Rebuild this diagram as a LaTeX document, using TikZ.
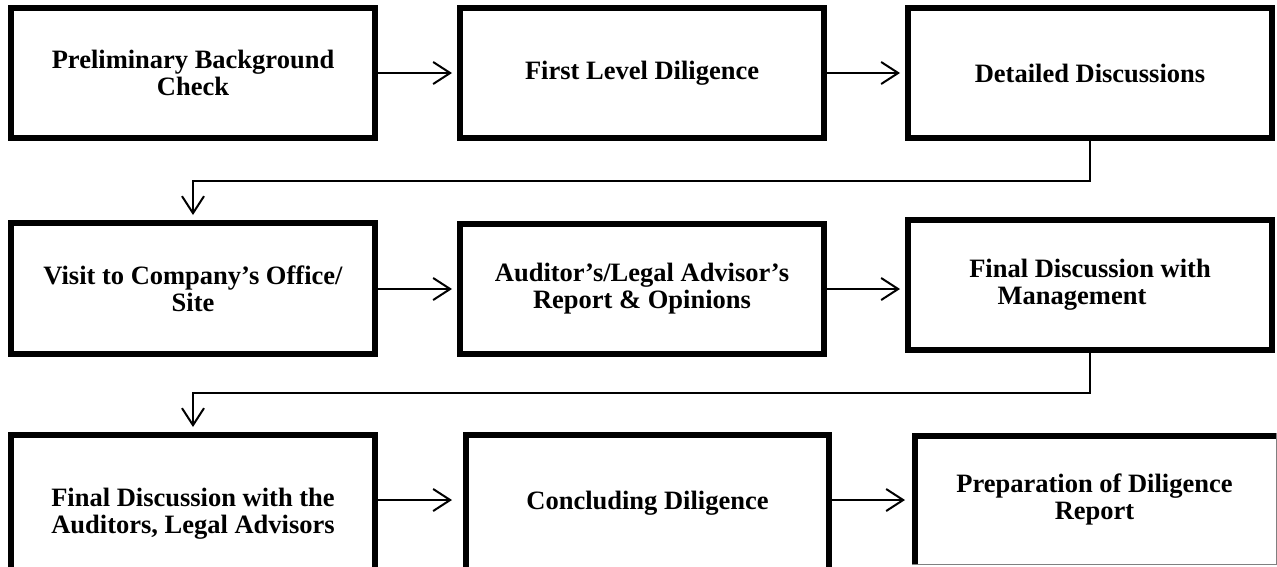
\documentclass[tikz,border=0pt]{standalone}
\usepackage{fontspec}
\setmainfont{Liberation Serif}
\usetikzlibrary{arrows.meta,calc}
\begin{document}
\begin{tikzpicture}[x=1pt,y=-1pt,
  boxfont/.style={font=\bfseries\fontsize{26.5}{27}\selectfont},
  stepbox/.style={draw=black,line width=6pt,minimum width=364pt,minimum height=130pt,
    align=center,inner sep=0pt,boxfont},
  arr/.style={line width=2pt,-{Straight Barb[length=17pt,width=22pt]}}]
\useasboundingbox (0,0) rectangle (1277,566);
\clip (0,0) rectangle (1277,566);
% row 1
\node[stepbox] (A) at (193,73) {Preliminary Background\\Check};
\node[stepbox] (B) at (642,73) {First Level Diligence};
\node[stepbox] (C) at (1090,73) {Detailed Discussions};
% row 2
\node[stepbox,minimum height=131pt] (D) at (193,288.5) {Visit to Company’s Office/\\Site};
\node[stepbox] (E) at (642,289) {Auditor’s/Legal Advisor’s\\Report \& Opinions};
\node[stepbox] (F) at (1090,285) {Final Discussion with\\Management\hspace*{36pt}};
% row 3
\node[stepbox,minimum height=158pt] (G) at (193,514) {Final Discussion with the\\Auditors, Legal Advisors};
\node[stepbox,minimum width=363pt,minimum height=144pt] (H) at (647.5,507) {\raisebox{14pt}{Concluding Diligence}};
\node[draw=none,outer sep=0pt,inner sep=0pt,minimum width=365pt,minimum height=132pt,
  align=center,boxfont] (I) at (1094.5,499) {Preparation of Diligence\\Report};
\draw[line width=6pt] ([xshift=3pt]I.south west) -- ([xshift=3pt,yshift=-3pt]I.north west) -- ([yshift=-3pt]I.north east);
\draw[gray,line width=1pt] ([xshift=-0.5pt]I.north east) -- ([xshift=-0.5pt,yshift=0.5pt]I.south east) -- ([yshift=0.5pt]I.south west);
% connectors
\coordinate (gh) at (0,500);
\draw[arr,shorten >=5pt] (A) -- (B);
\draw[arr,shorten >=5pt] (B) -- (C);
\draw[arr,shorten >=5pt] (C.south) -- ++(0,40) -| (D.north);
\draw[arr,shorten >=5pt] (D.east |- E.west) -- (E.west);
\draw[arr,shorten >=5pt] (E.east) -- (E.east -| F.west);
\draw[arr,shorten >=5pt] (F.south) -- ++(0,40) -| (G.north);
\draw[arr,shorten >=11pt] (G.east |- gh) -- (H.west |- gh);
\draw[arr,shorten >=7pt] (H.east |- gh) -- (I.west |- gh);
\end{tikzpicture}
\end{document}
